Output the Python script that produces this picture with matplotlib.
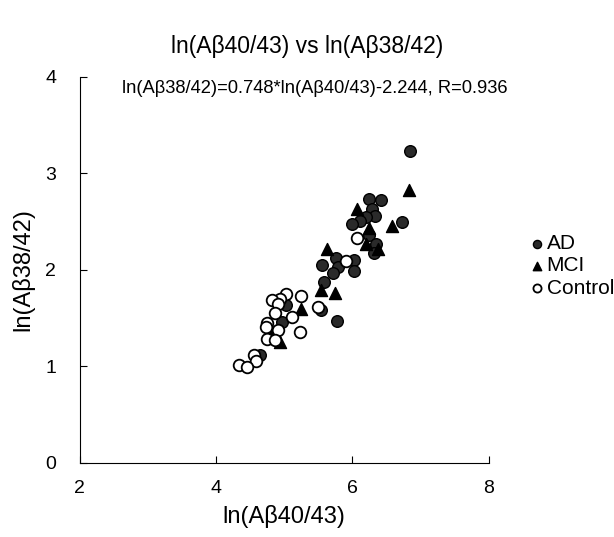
import matplotlib
matplotlib.use("Agg")
import matplotlib.pyplot as plt

plt.rcParams['font.family'] = ['Liberation Sans', 'DejaVu Sans']

# ln(Ab40/43), ln(Ab38/42) per group
ad_x = [6.85, 6.25, 6.42, 6.28, 6.33, 6.20, 6.11, 6.00, 6.73, 6.25, 6.35, 6.31,
        5.76, 6.02, 5.55, 5.79, 5.71, 6.02, 5.58, 5.02, 5.54, 5.77, 4.96, 4.64]
ad_y = [3.23, 2.73, 2.72, 2.63, 2.56, 2.55, 2.51, 2.47, 2.50, 2.36, 2.27, 2.17,
        2.12, 2.10, 2.05, 2.03, 1.97, 1.99, 1.87, 1.64, 1.58, 1.47, 1.46, 1.12]

mci_x = [6.83, 6.07, 6.58, 6.24, 6.20, 5.63, 5.54, 5.75, 5.25, 4.81, 4.93, 6.38]
mci_y = [2.83, 2.63, 2.45, 2.43, 2.27, 2.22, 1.79, 1.76, 1.59, 1.38, 1.25, 2.22]

ctl_x = [6.07, 5.90, 5.02, 5.25, 4.93, 4.82, 4.91, 5.50, 4.87, 5.12, 4.74, 4.73,
         4.91, 5.23, 4.75, 4.87, 4.55, 4.59, 4.33, 4.46]
ctl_y = [2.33, 2.09, 1.75, 1.73, 1.70, 1.69, 1.65, 1.61, 1.55, 1.51, 1.45, 1.41,
         1.38, 1.36, 1.28, 1.27, 1.12, 1.06, 1.01, 0.99]

fig = plt.figure(figsize=(6.14, 5.37), dpi=100)
ax = fig.add_axes([0.130, 0.138, 0.666, 0.719])

ax.scatter(ad_x, ad_y, s=70, c='#2a2a2a', edgecolors='black', linewidths=1.0,
           marker='o', label='AD', zorder=3)
ax.scatter(mci_x, mci_y, s=75, c='black', edgecolors='black', marker='^',
           label='MCI', zorder=3)
ax.scatter(ctl_x, ctl_y, s=70, facecolors='white', edgecolors='black',
           linewidths=1.3, marker='o', label='Control', zorder=4)

ax.set_xlim(2, 8)
ax.set_ylim(0, 4)
ax.set_xticks([2, 4, 6, 8])
ax.set_yticks([0, 1, 2, 3, 4])
ax.tick_params(direction='in', length=5, labelsize=14)
ax.tick_params(axis='x', pad=12)
ax.tick_params(axis='y', pad=17)
ax.spines['top'].set_visible(False)
ax.spines['right'].set_visible(False)

ax.set_xlabel('ln(Aβ40/43)', fontsize=17, labelpad=6)
ax.set_ylabel('ln(Aβ38/42)', fontsize=17, labelpad=8)
fig.suptitle('ln(Aβ40/43) vs ln(Aβ38/42)', fontsize=16.5, y=0.935)

ax.text(0.103, 0.97, 'ln(Aβ38/42)=0.748*ln(Aβ40/43)-2.244, R=0.936',
        transform=ax.transAxes, fontsize=13.2, va='center')

ax.legend(loc='center left', bbox_to_anchor=(1.07, 0.51), frameon=False,
          fontsize=15, handletextpad=0.0, labelspacing=0.15, markerscale=0.7,
          borderpad=0, handlelength=0.9)

fig.savefig('out.png', dpi=100)
